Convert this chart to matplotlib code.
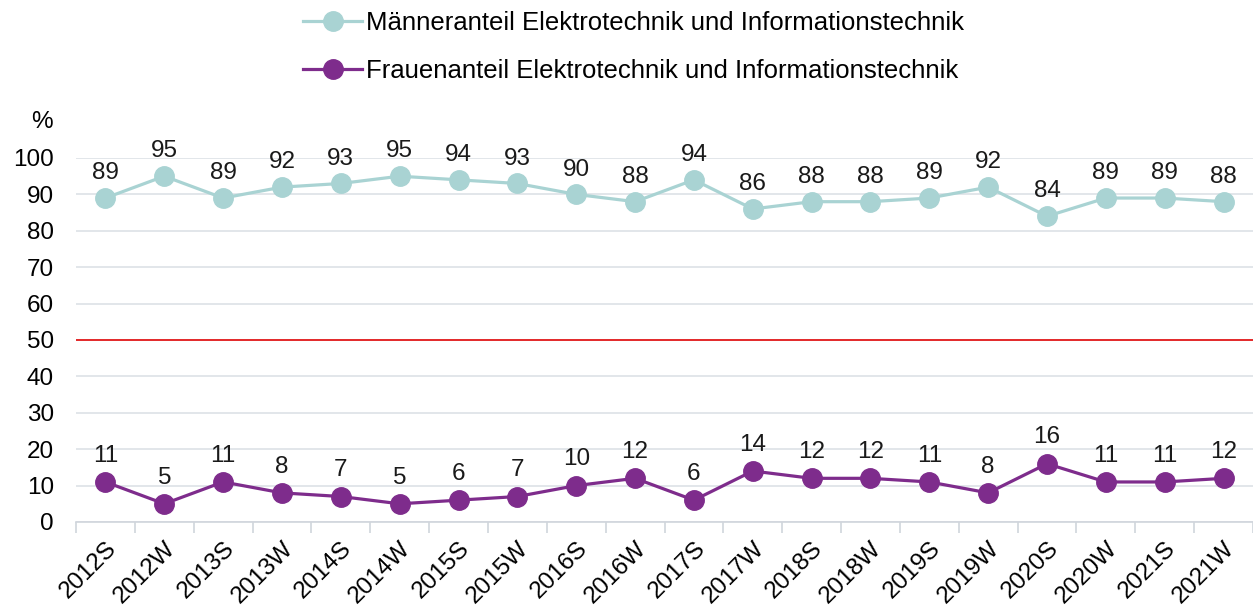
import matplotlib.pyplot as plt
from matplotlib.lines import Line2D

plt.rcParams['font.family'] = ['Liberation Sans', 'DejaVu Sans']

semesters = ['2012S', '2012W', '2013S', '2013W', '2014S', '2014W', '2015S', '2015W',
             '2016S', '2016W', '2017S', '2017W', '2018S', '2018W', '2019S', '2019W',
             '2020S', '2020W', '2021S', '2021W']
maenner = [89, 95, 89, 92, 93, 95, 94, 93, 90, 88, 94, 86, 88, 88, 89, 92, 84, 89, 89, 88]
frauen = [11, 5, 11, 8, 7, 5, 6, 7, 10, 12, 6, 14, 12, 12, 11, 8, 16, 11, 11, 12]

c_m = '#A9D3D3'
c_f = '#7E2C8C'
fs = 17.5

fig = plt.figure(figsize=(12.53, 6.15), dpi=100)
ax = fig.add_axes([76 / 1253, 1 - 522 / 615, 1 - 76 / 1253, (522 - 158) / 615])

x = list(range(len(semesters)))
ax.plot(x, maenner, color=c_m, lw=2.3, marker='o', ms=14, zorder=3)
ax.plot(x, frauen, color=c_f, lw=2.3, marker='o', ms=14, zorder=3)
ax.axhline(50, color='#E41A1A', lw=1.3, zorder=2)

for xi, v in zip(x, maenner):
    ax.annotate(str(v), (xi, v), xytext=(0, 10), textcoords='offset points',
                ha='center', va='bottom', fontsize=fs, color='#1a1a1a')
for xi, v in zip(x, frauen):
    ax.annotate(str(v), (xi, v), xytext=(0, 11), textcoords='offset points',
                ha='center', va='bottom', fontsize=fs, color='#1a1a1a')

ax.set_xlim(-0.5, len(semesters) - 0.5)
ax.set_ylim(0, 100)
ax.set_yticks(range(0, 101, 10))
ax.yaxis.grid(True, color='#DDE1E6', lw=1.2)
ax.set_axisbelow(True)
for s in ['top', 'right', 'left']:
    ax.spines[s].set_visible(False)
ax.spines['bottom'].set_color('#D0D5DC')
ax.spines['bottom'].set_linewidth(1.2)

# ticks sit between categories, labels under the points
ax.set_xticks([i - 0.5 for i in range(len(semesters) + 1)])
ax.set_xticklabels([])
ax.tick_params(axis='x', length=8, color='#D0D5DC', width=1.2)
ax.set_xticks(x, minor=True)
ax.set_xticklabels(semesters, minor=True, rotation=45, ha='right',
                   rotation_mode='anchor', fontsize=fs)
ax.tick_params(axis='x', which='minor', length=0, pad=11)
ax.tick_params(axis='y', length=0, labelsize=fs, pad=16)

fig.text(42 / 1253, 1 - 122 / 615, '%', fontsize=fs, ha='center', va='center')

handles = [Line2D([], [], color=c_m, lw=2.3, marker='o', ms=14),
           Line2D([], [], color=c_f, lw=2.3, marker='o', ms=14)]
labels = ['Männeranteil Elektrotechnik und Informationstechnik',
          'Frauenanteil Elektrotechnik und Informationstechnik']
fig.legend(handles, labels, loc='upper left', bbox_to_anchor=(280 / 1253, 1.02),
           frameon=False, fontsize=18.5, labelspacing=0.95, handlelength=2.3,
           handletextpad=0.15)

fig.savefig('out.png', dpi=100)
